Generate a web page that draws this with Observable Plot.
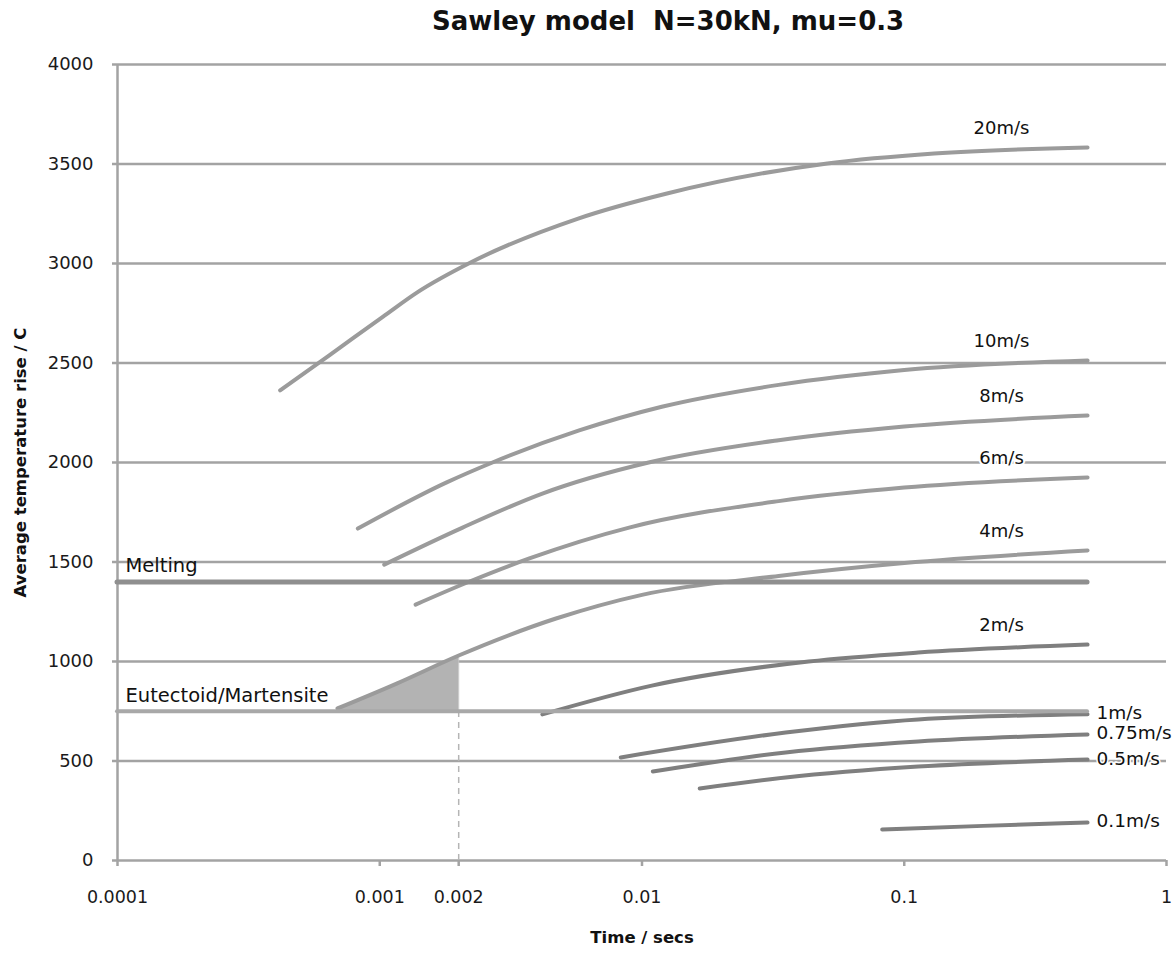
<!DOCTYPE html>
<html>
<head>
<meta charset="utf-8">
<script src="https://cdn.jsdelivr.net/npm/d3@7"></script>
<script src="https://cdn.jsdelivr.net/npm/@observablehq/plot@0.6"></script>
<style>
  body { margin: 0; background: #fff; width: 1175px; height: 954px; overflow: hidden; }
  #title { height: 50px; position: relative; }
  #title span { position: absolute; left: 432px; top: 6px; font: bold 26px "DejaVu Sans", sans-serif; white-space: pre; color: #111; }
  #chart svg { display: block; }
</style>
</head>
<body>
<div id="title"><span>Sawley model  N=30kN, mu=0.3</span></div>
<div id="chart"></div>
<script>
// ---- data ----
const seriesNames = ["20m/s", "10m/s", "8m/s", "6m/s", "4m/s", "2m/s", "1m/s", "0.75m/s", "0.5m/s", "0.1m/s"];

const t20 = [0.000417, 0.000646, 0.00103, 0.00139, 0.00222, 0.00571, 0.01245, 0.0509, 0.13, 0.5];
const T20 = [2362, 2541, 2733, 2855, 3005, 3226, 3352, 3503, 3553, 3583];
const t10 = [0.000825, 0.0018, 0.00269, 0.00576, 0.0119, 0.0332, 0.1, 0.5];
const T10 = [1668, 1900, 2000, 2161, 2280, 2390, 2465, 2513];
const t8 = [0.00104, 0.00207, 0.00417, 0.0106, 0.0332, 0.1, 0.5];
const T8 = [1487, 1673, 1844, 2000, 2112, 2181, 2236];
const t6 = [0.00137, 0.0022, 0.00372, 0.00893, 0.0332, 0.1, 0.5];
const T6 = [1286, 1402, 1518, 1673, 1806, 1874, 1925];
const t4 = [0.00069, 0.00116, 0.002, 0.0047, 0.01, 0.0332, 0.1, 0.5];
const T4 = [764, 889, 1030, 1216, 1335, 1430, 1495, 1558];
const t2 = [0.00417, 0.0109, 0.0432, 0.113, 0.5];
const T2 = [734, 879, 1000, 1045, 1085];
const t1 = [0.0083, 0.0353, 0.113, 0.5];
const T1 = [518, 643, 709, 735];
const t075 = [0.011, 0.0353, 0.113, 0.5];
const T075 = [447, 543, 598, 633];
const t05 = [0.0166, 0.0353, 0.113, 0.5];
const T05 = [362, 417, 472, 507];
const t01 = [0.0824, 0.2, 0.5];
const T01 = [156, 174, 191];

const thresholdNames = ["Melting", "Eutectoid/Martensite"];
const thresholdValues = [1400, 750];
const thresholdEnd = 0.5;

const shadeSeries = "4m/s";
const shadeLimit = 0.002;

const xTicks = [0.0001, 0.001, 0.002, 0.01, 0.1, 1];
const xTickLabels = ["0.0001", "0.001", "0.002", "0.01", "0.1", "1"];
const yTicks = [0, 500, 1000, 1500, 2000, 2500, 3000, 3500, 4000];

// ---- build table ----
const tArrays = [t20, t10, t8, t6, t4, t2, t1, t075, t05, t01];
const TArrays = [T20, T10, T8, T6, T4, T2, T1, T075, T05, T01];
const speedValues = seriesNames.map(s => parseFloat(s));
const rows = [];
seriesNames.forEach((name, i) => {
  tArrays[i].forEach((t, j) => rows.push({series: name, speed: speedValues[i], t, T: TArrays[i][j]}));
});
const ends = seriesNames.map((name, i) => ({
  series: name, speed: speedValues[i],
  t: tArrays[i][tArrays[i].length - 1], T: TArrays[i][TArrays[i].length - 1]
}));
const topLabels = ends.filter(d => d.speed >= 2);
const sideLabels = ends.filter(d => d.speed < 2);
const shadeIdx = seriesNames.indexOf(shadeSeries);
const shadeRows = tArrays[shadeIdx].map((t, j) => ({t, T: TArrays[shadeIdx][j]})).filter(d => d.t <= shadeLimit);
const shadeTop = shadeRows[shadeRows.length - 1].T;
const thresholds = thresholdNames.map((name, i) => ({name, T: thresholdValues[i]}));
const xLabelMap = new Map(xTicks.map((v, i) => [v, xTickLabels[i]]));

const light = "#9b9b9b";
const dark = "#7f7f7f";
const grid = "#a3a3a3";

const chart = Plot.plot({
  width: 1175,
  height: 904,
  marginLeft: 117,
  marginRight: 9,
  marginTop: 14,
  marginBottom: 94,
  style: {fontFamily: "'DejaVu Sans', sans-serif", background: "#fff", color: "#1a1a1a"},
  x: {type: "log", domain: [0.0001, 1], label: null},
  y: {domain: [0, 4000], label: null},
  marks: [
    // horizontal gridlines
    Plot.ruleY(yTicks.filter(d => d > 0), {stroke: grid, strokeWidth: 2.5}),
    // axes lines
    Plot.ruleY([0], {stroke: grid, strokeWidth: 2.5}),
    Plot.ruleX([xTicks[0]], {stroke: grid, strokeWidth: 2.5}),
    Plot.axisY({ticks: yTicks, tickFormat: "d", tickSize: 5, tickPadding: 19, stroke: grid, strokeWidth: 2.5, fill: "#1a1a1a", fontSize: 18, label: null}),
    Plot.axisX({ticks: xTicks, tickFormat: d => xLabelMap.get(d) ?? String(d), tickSize: 6, tickPadding: 24, stroke: grid, strokeWidth: 2.5, fill: "#1a1a1a", fontSize: 17.5, label: null}),
    // axis titles
    Plot.text(["Time / secs"], {frameAnchor: "bottom", dy: 82, fontWeight: "bold", fontSize: 16.5, fill: "#111"}),
    Plot.text(["Average temperature rise / C"], {frameAnchor: "left", textAnchor: "middle", dx: -97, rotate: -90, fontWeight: "bold", fontSize: 16.5, fill: "#111"}),
    // shaded region
    Plot.areaY(shadeRows, {x: "t", y1: thresholdValues[1], y2: "T", fill: "#b3b3b3", curve: "monotone-x"}),
    Plot.ruleX([shadeLimit], {y1: 0, y2: thresholdValues[1], stroke: "#b5b5b5", strokeWidth: 1.5, strokeDasharray: "6,5"}),
    Plot.ruleX([shadeLimit], {y1: thresholdValues[1], y2: shadeTop, stroke: "#c4c4c4", strokeWidth: 1}),
    // curves
    Plot.line(rows, {x: "t", y: "T", z: "series", stroke: d => d.speed > 2 ? light : dark, strokeWidth: 4, curve: "monotone-x", strokeLinecap: "round"}),
    // threshold lines
    Plot.ruleY(thresholds.slice(0, 1), {y: "T", x1: xTicks[0], x2: thresholdEnd, stroke: "#8f8f8f", strokeWidth: 5, strokeLinecap: "round"}),
    Plot.ruleY(thresholds.slice(1), {y: "T", x1: xTicks[0], x2: thresholdEnd, stroke: "#a8a8a8", strokeWidth: 4, strokeLinecap: "round"}),
    Plot.text(thresholds, {x: xTicks[0], y: "T", text: "name", textAnchor: "start", dx: 8, dy: -16, fontSize: 19.5, fill: "#111"}),
    // series labels
    Plot.text(topLabels, {x: "t", y: "T", text: "series", dx: -86, dy: -19, fontSize: 18, fill: "#111", stroke: "white", strokeWidth: 4}),
    Plot.text(sideLabels, {x: "t", y: "T", text: "series", textAnchor: "start", dx: 9, dy: -1, fontSize: 18.5, fill: "#111", stroke: "white", strokeWidth: 3})
  ]
});
document.getElementById("chart").appendChild(chart);
</script>
</body>
</html>
